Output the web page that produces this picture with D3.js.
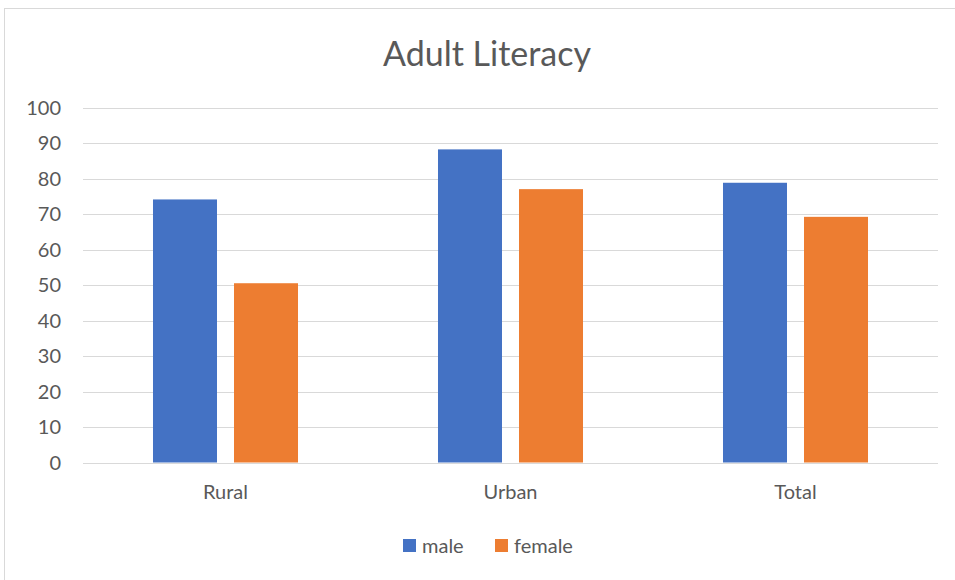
<!DOCTYPE html>
<html>
<head>
<meta charset="utf-8">
<script src="https://cdn.jsdelivr.net/npm/d3@7"></script>
<style>
  body { margin: 0; background: #fff; }
  text { font-family: Lato, "Open Sans", sans-serif; fill: #595959; }
</style>
</head>
<body>
<script>
var categories = ["Rural", "Urban", "Total"];
var seriesNames = ["male", "female"];
var male = [74.1, 88.2, 78.8];
var female = [50.5, 77.0, 69.2];
var yTicks = [0, 10, 20, 30, 40, 50, 60, 70, 80, 90, 100];

var colors = { male: "#4472c4", female: "#ed7d31" };

var width = 955,
    height = 580;

var svg = d3.select("body").append("svg")
    .attr("width", width)
    .attr("height", height);

// chart frame
svg.append("rect")
    .attr("x", 4.5).attr("y", 8.5)
    .attr("width", 970).attr("height", 600)
    .attr("fill", "none")
    .attr("stroke", "#d9d9d9");

var plot = { left: 83, right: 938, top: 107.5, bottom: 462.5 };

var y = d3.scaleLinear()
    .domain([0, 100])
    .range([plot.bottom, plot.top]);

var x0 = d3.scaleBand()
    .domain(categories)
    .range([plot.left, plot.right]);

var x1 = d3.scaleBand()
    .domain(seriesNames)
    .range([0, x0.bandwidth()])
    .paddingInner(0.21)
    .paddingOuter(0.864);

// gridlines
svg.append("g").selectAll("line")
    .data(yTicks)
  .enter().append("line")
    .attr("x1", plot.left).attr("x2", plot.right)
    .attr("y1", function(d) { return Math.round(y(d)) + 0.5; })
    .attr("y2", function(d) { return Math.round(y(d)) + 0.5; })
    .attr("stroke", "#d9d9d9")
    .attr("stroke-width", 1);

// y tick labels
svg.append("g").selectAll("text")
    .data(yTicks)
  .enter().append("text")
    .attr("x", 61)
    .attr("y", function(d) { return y(d); })
    .attr("dy", "0.35em")
    .attr("text-anchor", "end")
    .style("font-size", "20px")
    .text(function(d) { return d; });

// bars
var rows = categories.map(function(c, i) {
  return { cat: c, values: [{ key: "male", v: male[i] }, { key: "female", v: female[i] }] };
});

var groups = svg.append("g").selectAll("g")
    .data(rows)
  .enter().append("g")
    .attr("transform", function(d) { return "translate(" + x0(d.cat) + ",0)"; });

groups.selectAll("rect")
    .data(function(d) { return d.values; })
  .enter().append("rect")
    .attr("x", function(d) { return x1(d.key); })
    .attr("y", function(d) { return y(d.v); })
    .attr("width", x1.bandwidth())
    .attr("height", function(d) { return y(0) - y(d.v); })
    .attr("fill", function(d) { return colors[d.key]; });

// category labels
svg.append("g").selectAll("text")
    .data(categories)
  .enter().append("text")
    .attr("x", function(d) { return x0(d) + x0.bandwidth() / 2; })
    .attr("y", 499)
    .attr("text-anchor", "middle")
    .style("font-size", "20px")
    .text(function(d) { return d; });

// title
svg.append("text")
    .attr("x", 487)
    .attr("y", 66)
    .attr("text-anchor", "middle")
    .style("font-size", "34px")
    .text("Adult Literacy");

// legend
var legendX = [403, 495];
var legend = svg.append("g").selectAll("g")
    .data(seriesNames)
  .enter().append("g")
    .attr("transform", function(d, i) { return "translate(" + legendX[i] + ",539)"; });

legend.append("rect")
    .attr("width", 13).attr("height", 13)
    .attr("fill", function(d) { return colors[d]; });

legend.append("text")
    .attr("x", 19)
    .attr("y", 7)
    .attr("dy", "0.35em")
    .style("font-size", "20px")
    .text(function(d) { return d; });
</script>
</body>
</html>
